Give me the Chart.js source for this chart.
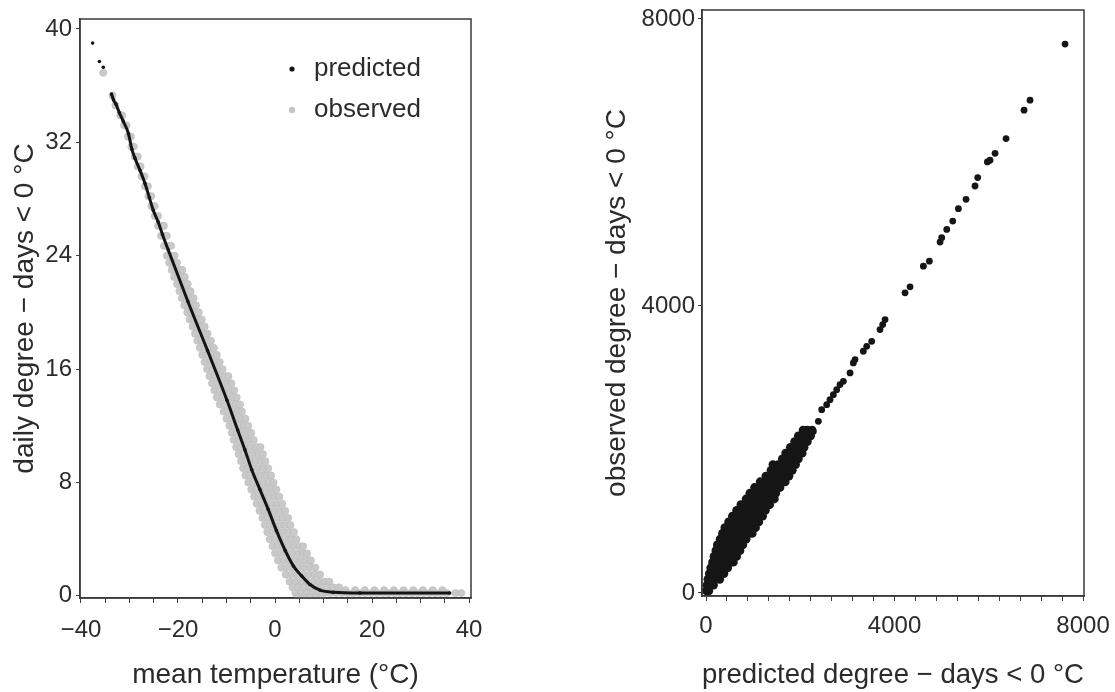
<!DOCTYPE html>
<html>
<head>
<meta charset="utf-8">
<script src="https://cdn.jsdelivr.net/npm/chart.js@4.4.1/dist/chart.umd.min.js"></script>
<style>
  html, body { margin: 0; padding: 0; background: #fff; }
  #wrap { position: relative; width: 1115px; height: 692px; }
  canvas { position: absolute; top: 0; }
  #tempChart { left: 0; }
  #ddChart { left: 560px; }
</style>
</head>
<body>
<div id="wrap">
  <canvas id="tempChart" width="520" height="692"></canvas>
  <canvas id="ddChart" width="555" height="692"></canvas>
</div>
<script>
// ---- left panel: daily degree-days < 0 °C vs mean temperature ----
const tempTicks = [-40, -20, 0, 20, 40];
const dailyTicks = [0, 8, 16, 24, 32, 40];

const predTemp = [-37.6, -36.2, -35.4, -33.7, -33.3, -32.8, -32.1, -31.3, -30.2, -29.5, -28.9, -27.8, -26.8, -25.9,
  -25.1, -24.1, -23.2, -22.0, -18.0, -13.9, -9.9, -7.7, -6.2, -4.8, -3.1, -1.4, 0.3, 2.1, 3.8, 5.5, 7.2, 9.3, 12.0, 17.5, 36.0];
const predDaily = [39.0, 37.7, 37.3, 35.4, 35.0, 34.7, 34.1, 33.5, 32.6, 31.5, 30.9, 30.0, 29.1, 28.1,
  27.2, 26.4, 25.5, 24.4, 20.8, 17.3, 13.8, 11.7, 10.3, 8.9, 7.5, 6.1, 4.6, 3.2, 2.1, 1.4, 0.8, 0.4, 0.25, 0.2, 0.2];

// observed days, one row per degree-day level: [degree-days, mean temperatures]
const obsRows = [
  [36.9, [-35.4]],
  [35.3, [-33.5]],
  [34.6, [-32.9]],
  [33.9, [-31.9, -31.5]],
  [33.2, [-31.1, -30.6]],
  [32.4, [-30.3, -29.7]],
  [31.7, [-29.6, -29.1]],
  [31.0, [-28.9, -28.3]],
  [30.3, [-28.3, -27.7]],
  [29.6, [-27.5, -26.9]],
  [28.9, [-26.8, -26.2]],
  [28.2, [-26.1, -25.5]],
  [27.5, [-25.5, -24.8]],
  [26.8, [-24.8, -24.1]],
  [26.1, [-24.1, -23.4, -22.9]],
  [25.4, [-23.5, -22.8, -22.3]],
  [24.7, [-22.9, -22.1, -21.4]],
  [24.0, [-22.3, -21.5, -20.7]],
  [23.5, [-21.8, -21.0, -20.2]],
  [23.0, [-21.3, -20.5, -19.7, -19.1]],
  [22.5, [-20.8, -20.0, -19.2, -18.6]],
  [22.0, [-20.2, -19.4, -18.6, -18.0]],
  [21.5, [-19.7, -18.9, -18.1, -17.4]],
  [21.0, [-19.2, -18.3, -17.5, -16.8]],
  [20.5, [-18.7, -17.8, -17.0, -16.3]],
  [20.0, [-18.1, -17.2, -16.4, -15.7]],
  [19.5, [-17.6, -16.7, -15.8, -15.1]],
  [19.0, [-17.0, -16.1, -15.2, -14.5]],
  [18.5, [-16.5, -15.5, -14.6, -13.9]],
  [18.0, [-16.0, -15.0, -14.0, -13.2]],
  [17.5, [-15.5, -14.4, -13.4, -12.6]],
  [17.0, [-15.0, -13.9, -12.9, -12.0]],
  [16.5, [-14.5, -13.4, -12.3, -11.4]],
  [16.0, [-14.0, -12.9, -11.8, -10.8]],
  [15.5, [-13.5, -12.4, -11.3, -10.3, -9.6]],
  [15.0, [-13.0, -11.9, -10.8, -9.8, -9.0]],
  [14.5, [-12.5, -11.4, -10.3, -9.2, -8.4]],
  [14.0, [-12.0, -10.9, -9.8, -8.7, -7.9]],
  [13.5, [-11.4, -10.3, -9.2, -8.1, -7.2]],
  [13.0, [-10.6, -9.6, -8.6, -7.6, -6.8]],
  [12.5, [-10.0, -9.0, -8.0, -7.0, -6.1]],
  [12.0, [-9.4, -8.4, -7.4, -6.4, -5.5]],
  [11.5, [-8.9, -7.9, -6.9, -5.9, -4.9]],
  [11.0, [-8.5, -7.5, -6.5, -5.5, -4.4]],
  [10.5, [-8.0, -7.0, -6.0, -5.0, -3.9, -3.0]],
  [10.0, [-7.5, -6.5, -5.5, -4.5, -3.4, -2.5]],
  [9.5, [-7.0, -6.0, -5.0, -4.0, -2.9, -2.0]],
  [9.0, [-6.6, -5.6, -4.6, -3.5, -2.4, -1.4]],
  [8.5, [-6.1, -5.1, -4.1, -3.0, -1.9, -0.8]],
  [8.0, [-5.5, -4.5, -3.5, -2.4, -1.3, -0.3]],
  [7.5, [-4.9, -3.9, -2.9, -1.8, -0.7, 0.3]],
  [7.0, [-4.3, -3.3, -2.3, -1.2, -0.1, 0.9]],
  [6.5, [-3.8, -2.8, -1.8, -0.7, 0.4, 1.5]],
  [6.0, [-3.2, -2.2, -1.2, -0.1, 1.0, 2.1]],
  [5.5, [-2.6, -1.6, -0.6, 0.5, 1.6, 2.7]],
  [5.0, [-2.1, -1.1, -0.1, 1.0, 2.1, 3.2]],
  [4.5, [-1.6, -0.5, 0.6, 1.7, 2.8, 3.9]],
  [4.0, [-1.1, 0.0, 1.1, 2.2, 3.3, 4.4]],
  [3.5, [-0.5, 0.6, 1.7, 2.8, 3.9, 5.0, 5.8]],
  [3.0, [0.0, 1.2, 2.4, 3.6, 4.8, 5.9, 6.6]],
  [2.5, [0.6, 1.8, 3.0, 4.2, 5.4, 6.6, 7.4]],
  [2.0, [1.3, 2.5, 3.7, 4.9, 6.1, 7.3, 8.3]],
  [1.5, [2.2, 3.4, 4.6, 5.8, 7.0, 8.2, 9.3]],
  [1.0, [3.0, 4.2, 5.4, 6.6, 7.8, 9.0, 10.2, 11.2]],
  [0.6, [3.6, 4.8, 6.0, 7.2, 8.4, 9.6, 10.8, 12.0, 13.2]],
  [0.4, [14.5, 16.5, 18.5, 20.5, 22.5, 24.5, 26.5, 28.5, 30.5, 32.5, 34.5]],
  [0.2, [4.2, 5.4, 6.6, 7.8, 9.0, 10.2, 11.4, 12.6, 13.8, 15.0, 16.2, 17.4, 18.6, 19.8, 21.0, 22.2,
    23.4, 24.6, 25.8, 27.0, 28.2, 29.4, 30.6, 31.8, 33.0, 34.2, 35.4, 37.2, 38.4]],
  [-0.1, [4.8, 6.0, 7.2, 8.4, 9.6]]
];

// ---- right panel: observed vs predicted degree-days < 0 °C ----
const ddTicks = [0, 4000, 8000];

// dense part, one row per observed level: [observed, predicted values]
const ddRows = [
  [30, [10, 60]],
  [110, [20, 90, 160]],
  [190, [40, 120, 200, 290]],
  [270, [70, 150, 230, 320, 380]],
  [350, [100, 190, 280, 370, 460]],
  [430, [140, 230, 320, 420, 520, 580]],
  [510, [170, 270, 370, 470, 570, 650]],
  [590, [210, 310, 410, 510, 610, 720]],
  [670, [240, 350, 460, 560, 670, 780]],
  [750, [300, 400, 510, 620, 730, 850]],
  [830, [350, 460, 570, 680, 790, 910, 980]],
  [910, [400, 510, 620, 730, 840, 950, 1050]],
  [990, [480, 580, 690, 800, 910, 1020, 1120]],
  [1070, [560, 660, 770, 880, 990, 1100, 1200]],
  [1150, [650, 750, 860, 970, 1080, 1190, 1260]],
  [1230, [740, 840, 950, 1060, 1170, 1280, 1350]],
  [1310, [850, 950, 1060, 1170, 1280, 1390, 1450]],
  [1390, [930, 1040, 1150, 1260, 1370, 1480]],
  [1470, [1030, 1140, 1250, 1360, 1470, 1570]],
  [1550, [1150, 1260, 1370, 1480, 1590, 1680]],
  [1630, [1270, 1370, 1470, 1570, 1670, 1760]],
  [1710, [1380, 1470, 1560, 1650, 1740, 1830]],
  [1790, [1420, 1530, 1630, 1730, 1830, 1900]],
  [1870, [1620, 1710, 1800, 1900, 1960]],
  [1950, [1690, 1790, 1890, 1990, 2040]],
  [2030, [1790, 1880, 1980, 2080]],
  [2110, [1880, 1970, 2060, 2150]],
  [2190, [1960, 2050, 2140, 2220]],
  [2270, [2060, 2150, 2250]]
];

// sparse upper part
const ddPred = [1995, 2137, 2277, 2384, 2455, 2561, 2631, 2702, 2773, 2843, 2914, 3056, 3126, 3162, 3338, 3410, 3516,
  3692, 3749, 3799, 4223, 4329, 4612, 4739, 4966, 5001, 5108, 5235, 5355, 5517, 5708, 5765, 5970, 6026, 6133,
  6366, 6748, 6875, 7618];
const ddObs = [2090, 2229, 2252, 2392, 2555, 2625, 2694, 2764, 2834, 2904, 2950, 3067, 3206, 3253, 3369, 3438, 3508,
  3671, 3741, 3811, 4184, 4267, 4555, 4625, 4890, 4951, 5067, 5183, 5356, 5486, 5672, 5789, 6007, 6031, 6128,
  6333, 6729, 6868, 7650];

// ---- shared style ----
const FONT = "'Liberation Sans', Arial, Helvetica, sans-serif";
const INK = '#2b2b2b';
const LINE = '#3a3a3a';

const fmt = v => (v < 0 ? '\u2212' : '') + Math.abs(v);

const predicted = predTemp.map((t, i) => ({ x: t, y: predDaily[i] }));
const observed = [];
obsRows.forEach(([d, temps]) => temps.forEach(t => observed.push({ x: t, y: d })));

const ddDense = [];
ddRows.forEach(([o, preds]) => preds.forEach(p => ddDense.push({ x: p, y: o })));
const ddSparse = ddPred.map((p, i) => ({ x: p, y: ddObs[i] }));

// box round the plot area
const framePlugin = {
  id: 'frame',
  afterDatasetsDraw(chart) {
    const { ctx, chartArea: a } = chart;
    ctx.save();
    ctx.strokeStyle = LINE;
    ctx.lineWidth = 1.5;
    ctx.strokeRect(a.left, a.top, a.right - a.left, a.bottom - a.top);
    ctx.restore();
  }
};

// key inside the left plot
const keyItems = [
  { label: 'predicted', color: '#141414', r: 2.6, y: 69 },
  { label: 'observed', color: '#c6c6c6', r: 3.2, y: 110 }
];
const keyPlugin = {
  id: 'key',
  afterDraw(chart) {
    const ctx = chart.ctx;
    ctx.save();
    ctx.font = '26px ' + FONT;
    ctx.textBaseline = 'middle';
    keyItems.forEach(item => {
      ctx.fillStyle = item.color;
      ctx.beginPath();
      ctx.arc(292, item.y, item.r, 0, Math.PI * 2);
      ctx.fill();
      ctx.fillStyle = INK;
      ctx.fillText(item.label, 314, item.y);
    });
    ctx.restore();
  }
};

function axisStyle(extra) {
  return Object.assign({
    type: 'linear',
    grid: { drawOnChartArea: false, drawTicks: true, tickLength: 5, color: LINE, lineWidth: 1 },
    border: { display: true, color: LINE, width: 1.5 }
  }, extra);
}

const tickFont = { family: FONT, size: 24 };
const titleFont = { family: FONT, size: 28 };

// left chart
new Chart(document.getElementById('tempChart'), {
  type: 'scatter',
  data: {
    datasets: [
      {
        label: 'predicted',
        data: predicted,
        showLine: true,
        cubicInterpolationMode: 'monotone',
        borderColor: '#141414',
        borderWidth: 3,
        pointRadius: 1.8,
        pointBackgroundColor: '#141414',
        pointBorderWidth: 0,
        segment: { borderColor: ctx => ctx.p0DataIndex < 3 ? 'rgba(0,0,0,0)' : undefined }
      },
      {
        label: 'observed',
        data: observed,
        pointRadius: 3.6,
        pointBackgroundColor: '#c9c9c9',
        pointBorderColor: '#b6b6b6',
        pointBorderWidth: 0.5
      }
    ]
  },
  options: {
    responsive: false,
    animation: false,
    events: [],
    layout: { padding: { left: 0, top: 19, right: 49, bottom: 0 } },
    plugins: { legend: { display: false }, tooltip: { enabled: false } },
    scales: {
      x: axisStyle({
        min: -40.2,
        max: 40.4,
        afterBuildTicks: s => {
          const t = [];
          for (let v = -40; v <= 40; v += 5) t.push({ value: v });
          s.ticks = t;
        },
        afterFit: s => { s.height = 94; s.paddingLeft = 0; s.paddingRight = 0; },
        ticks: {
          autoSkip: false, maxRotation: 0, padding: 13, font: tickFont, color: INK,
          callback: v => tempTicks.includes(v) ? fmt(v) : ''
        },
        title: { display: true, text: 'mean temperature (°C)', font: titleFont, color: INK, padding: { top: 0, bottom: 0 } }
      }),
      y: axisStyle({
        min: -0.15,
        max: 40.7,
        afterBuildTicks: s => { s.ticks = dailyTicks.map(v => ({ value: v })); },
        afterFit: s => { s.width = 80; s.paddingTop = 0; s.paddingBottom = 0; },
        grid: { drawOnChartArea: false, drawTicks: true, tickLength: 4, color: LINE, lineWidth: 1 },
        ticks: { autoSkip: false, padding: 4, font: tickFont, color: INK },
        title: { display: true, text: 'daily degree − days < 0 °C', font: titleFont, color: INK, padding: { top: 8, bottom: 0 } }
      })
    }
  },
  plugins: [framePlugin, keyPlugin]
});

// right chart
new Chart(document.getElementById('ddChart'), {
  type: 'scatter',
  data: {
    datasets: [
      {
        label: 'sparse',
        data: ddSparse,
        pointRadius: 3.4,
        pointBackgroundColor: '#161616',
        pointBorderWidth: 0
      },
      {
        label: 'dense',
        data: ddDense,
        pointRadius: 4.4,
        pointBackgroundColor: '#161616',
        pointBorderWidth: 0
      }
    ]
  },
  options: {
    responsive: false,
    animation: false,
    events: [],
    layout: { padding: { left: 0, top: 10, right: 31, bottom: 0 } },
    plugins: { legend: { display: false }, tooltip: { enabled: false } },
    scales: {
      x: axisStyle({
        min: -85,
        max: 8020,
        afterBuildTicks: s => {
          const t = [];
          for (let i = 0; i <= 18; i++) t.push({ value: i * 8000 / 18 });
          s.ticks = t;
        },
        afterFit: s => { s.height = 96; s.paddingLeft = 0; s.paddingRight = 0; },
        ticks: {
          autoSkip: false, maxRotation: 0, padding: 11, font: tickFont, color: INK,
          callback: v => {
            const hit = ddTicks.find(t => Math.abs(t - v) < 1);
            return hit === undefined ? '' : String(hit);
          }
        },
        title: { display: true, text: 'predicted degree − days < 0 °C', font: titleFont, color: INK, padding: { top: 0, bottom: 0 } }
      }),
      y: axisStyle({
        min: -42,
        max: 8125,
        afterBuildTicks: s => { s.ticks = ddTicks.map(v => ({ value: v })); },
        afterFit: s => { s.width = 142; s.paddingTop = 0; s.paddingBottom = 0; },
        grid: { drawOnChartArea: false, drawTicks: true, tickLength: 4, color: LINE, lineWidth: 1 },
        ticks: { autoSkip: false, padding: 3, font: tickFont, color: INK, callback: v => String(v) },
        title: { display: true, text: 'observed degree − days < 0 °C', font: titleFont, color: INK, padding: { top: 40, bottom: 0 } }
      })
    }
  },
  plugins: [framePlugin]
});
</script>
</body>
</html>
